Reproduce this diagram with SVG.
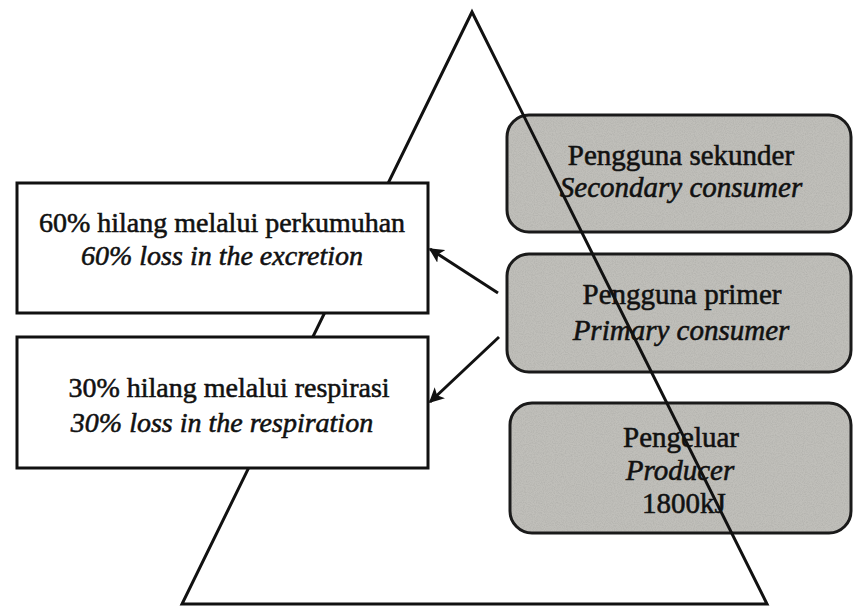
<svg xmlns="http://www.w3.org/2000/svg" width="853" height="609" viewBox="0 0 853 609">
<style>
.bg{fill:#ffffff}
.loss{fill:#ffffff;stroke:#111;stroke-width:3}
.level{fill:#c0bfba;stroke:#1a1a1a;stroke-width:3}
.grain{fill:#000;filter:url(#speckle);opacity:0.35}
.tri{fill:none;stroke:#111;stroke-width:3;stroke-linejoin:miter}
text{font-family:'Liberation Serif','DejaVu Serif',serif;font-size:28px;fill:#111;text-anchor:middle;stroke:#111;stroke-width:0.55}
.r{font-size:29px}
.i{font-style:italic}
.conn{stroke:#111;stroke-width:3;fill:none}
</style>
<defs>
<marker id="ah" viewBox="0 0 10 10" refX="9" refY="5" markerWidth="5" markerHeight="5" orient="auto" markerUnits="strokeWidth">
<path d="M0,0 L10,5 L0,10 L2.5,5 Z" fill="#111"/>
</marker>
<filter id="speckle" x="0" y="0" width="1" height="1">
<feTurbulence type="fractalNoise" baseFrequency="0.9" numOctaves="2" seed="3" result="n"/>
<feColorMatrix in="n" type="matrix" values="0 0 0 0 0.35  0 0 0 0 0.35  0 0 0 0 0.33  0 0 0 -2.2 1.4" result="g"/>
<feComposite in="g" in2="SourceGraphic" operator="in"/>
</filter>
</defs>
<rect class="bg" x="0" y="0" width="853" height="609"/>
<g id="secondary-consumer">
<rect class="level" x="507" y="115" width="344" height="117" rx="22"/>
<rect class="grain" x="509" y="117" width="340" height="113" rx="20"/>
<text class="r" x="681" y="165">Pengguna sekunder</text>
<text class="r i" x="681" y="197">Secondary consumer</text>
</g>
<g id="primary-consumer">
<rect class="level" x="507" y="254" width="344" height="118" rx="22"/>
<rect class="grain" x="509" y="256" width="340" height="114" rx="20"/>
<text class="r" x="682" y="304">Pengguna primer</text>
<text class="r i" x="681" y="340">Primary consumer</text>
</g>
<g id="producer">
<rect class="level" x="510" y="403" width="341" height="130" rx="22"/>
<rect class="grain" x="512" y="405" width="337" height="126" rx="20"/>
<text class="r" x="681" y="447">Pengeluar</text>
<text class="r i" x="680" y="480">Producer</text>
<text class="r" x="684" y="513">1800kJ</text>
</g>
<g id="pyramid">
<polygon class="tri" points="472,12 767,604 182,604"/>
</g>
<g id="excretion-loss">
<rect class="loss" x="17" y="183" width="411" height="130"/>
<text x="222" y="232">60% hilang melalui perkumuhan</text>
<text class="i" x="222" y="265">60% loss in the excretion</text>
</g>
<g id="respiration-loss">
<rect class="loss" x="17" y="337" width="411" height="131"/>
<text x="229" y="397">30% hilang melalui respirasi</text>
<text class="i" x="222" y="432">30% loss in the respiration</text>
</g>
<g id="connectors">
<line class="conn" x1="498" y1="293" x2="430" y2="249" marker-end="url(#ah)"/>
<line class="conn" x1="499" y1="337" x2="430" y2="402" marker-end="url(#ah)"/>
</g>
</svg>
